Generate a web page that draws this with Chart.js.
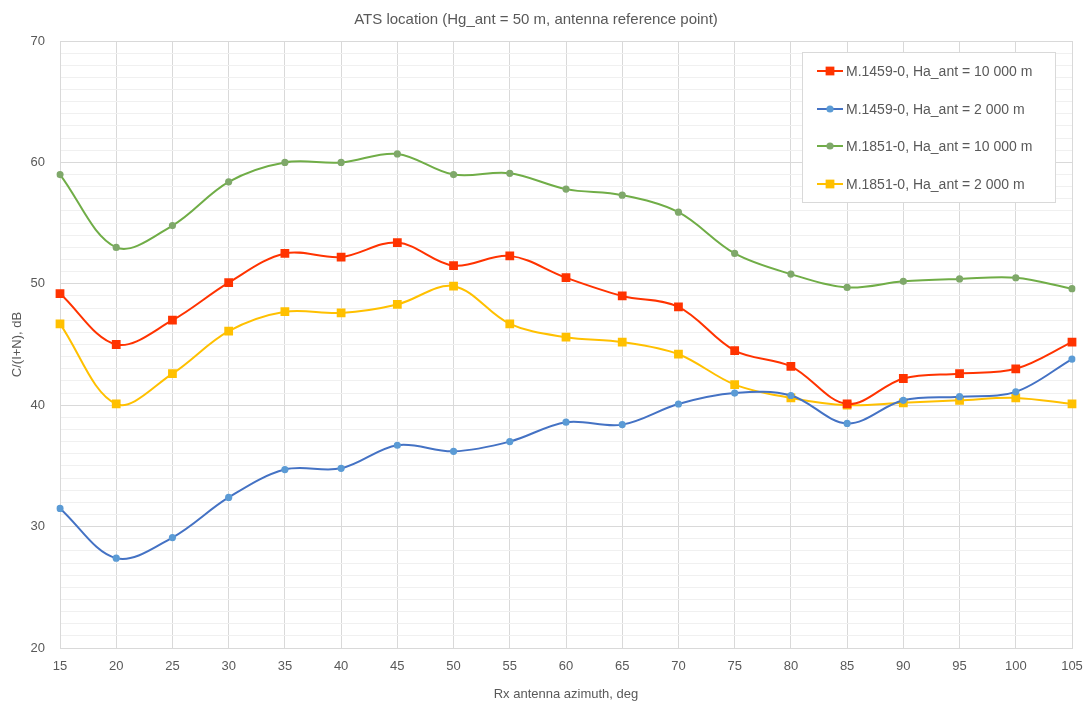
<!DOCTYPE html>
<html>
<head>
<meta charset="utf-8">
<script src="https://cdn.jsdelivr.net/npm/chart.js@4/dist/chart.umd.min.js"></script>
<style>
  html, body { margin: 0; padding: 0; background: #fff; }
  #wrap { width: 1089px; height: 702px; position: relative; }
</style>
</head>
<body>
<div id="wrap"><canvas id="c" width="1089" height="702"></canvas></div>
<script>
const azimuths = [15, 20, 25, 30, 35, 40, 45, 50, 55, 60, 65, 70, 75, 80, 85, 90, 95, 100, 105];
const m1459_10000 = [49.2, 45.0, 47.0, 50.1, 52.5, 52.2, 53.4, 51.5, 52.3, 50.5, 49.0, 48.1, 44.5, 43.2, 40.1, 42.2, 42.6, 43.0, 45.2];
const m1459_2000  = [31.5, 27.4, 29.1, 32.4, 34.7, 34.8, 36.7, 36.2, 37.0, 38.6, 38.4, 40.1, 41.0, 40.8, 38.5, 40.4, 40.7, 41.1, 43.8];
const m1851_10000 = [59.0, 53.0, 54.8, 58.4, 60.0, 60.0, 60.7, 59.0, 59.1, 57.8, 57.3, 55.9, 52.5, 50.8, 49.7, 50.2, 50.4, 50.5, 49.6];
const m1851_2000  = [46.7, 40.1, 42.6, 46.1, 47.7, 47.6, 48.3, 49.8, 46.7, 45.6, 45.2, 44.2, 41.7, 40.6, 40.0, 40.2, 40.4, 40.6, 40.1];
const seriesNames = [
  'M.1459-0, Ha_ant = 10 000 m',
  'M.1459-0, Ha_ant = 2 000 m',
  'M.1851-0, Ha_ant = 10 000 m',
  'M.1851-0, Ha_ant = 2 000 m'
];
const yTickLabels = [20, 30, 40, 50, 60, 70];
const chartTitle = 'ATS location (Hg_ant = 50 m, antenna reference point)';
const xTitle = 'Rx antenna azimuth, deg';
const yTitle = 'C/(I+N), dB';

const FONT = "'Liberation Sans', Arial, sans-serif";
const TXT = '#595959';

const legendPlugin = {
  id: 'boxLegend',
  afterDraw(chart) {
    const ctx = chart.ctx;
    const x0 = 802, y0 = 52, w = 253, h = 150;
    ctx.save();
    ctx.fillStyle = '#fff';
    ctx.fillRect(x0, y0, w, h);
    ctx.strokeStyle = '#d9d9d9';
    ctx.lineWidth = 1;
    ctx.strokeRect(x0 + 0.5, y0 + 0.5, w, h);
    const rows = [71, 109, 146, 184];
    chart.data.datasets.forEach((ds, i) => {
      const y = rows[i];
      ctx.strokeStyle = ds.borderColor;
      ctx.lineWidth = 2;
      ctx.beginPath();
      ctx.moveTo(817, y);
      ctx.lineTo(843, y);
      ctx.stroke();
      ctx.fillStyle = ds.pointBackgroundColor;
      ctx.beginPath();
      if (ds.pointStyle === 'rect') {
        const s = ds.pointRadius * Math.SQRT2;
        ctx.fillRect(830 - s / 2, y - s / 2, s, s);
      } else {
        ctx.arc(830, y, ds.pointRadius, 0, Math.PI * 2);
        ctx.fill();
      }
      ctx.fillStyle = TXT;
      ctx.font = "14px " + FONT;
      ctx.textBaseline = 'middle';
      ctx.textAlign = 'left';
      ctx.fillText(ds.label, 846, y + 1);
    });
    ctx.restore();
  }
};

const ds = (label, data, color, lineColor, style, r) => ({
  label, data,
  borderColor: lineColor,
  backgroundColor: color,
  pointBackgroundColor: color,
  pointBorderColor: color,
  pointBorderWidth: 0,
  pointStyle: style,
  pointRadius: r,
  pointHoverRadius: r,
  borderWidth: 2,
  tension: 0.35,
  fill: false
});

new Chart(document.getElementById('c'), {
  type: 'line',
  data: {
    labels: azimuths,
    datasets: [
      ds(seriesNames[0], m1459_10000, '#FF3300', '#FF3300', 'rect', 6.2),
      ds(seriesNames[1], m1459_2000, '#5B9BD5', '#4472C4', 'circle', 3.6),
      ds(seriesNames[2], m1851_10000, '#7FA86A', '#70AD47', 'circle', 3.6),
      ds(seriesNames[3], m1851_2000, '#FFC000', '#FFC000', 'rect', 6.2)
    ]
  },
  options: {
    responsive: false,
    animation: false,
    devicePixelRatio: 1,
    layout: { padding: { left: 0, right: 17, top: 0, bottom: 0 } },
    plugins: {
      legend: { display: false },
      tooltip: { enabled: false },
      title: {
        display: true,
        text: chartTitle,
        color: TXT,
        font: { family: FONT, size: 15, weight: 'normal' },
        padding: { top: 11, bottom: 12 }
      }
    },
    scales: {
      x: {
        type: 'category',
        offset: false,
        grid: { color: '#d9d9d9', drawTicks: false },
        border: { color: '#d9d9d9' },
        ticks: {
          color: TXT, autoSkip: false, maxRotation: 0, padding: 11,
          font: { family: FONT, size: 13 }
        },
        title: {
          display: true, text: xTitle, color: TXT,
          font: { family: FONT, size: 13 }, padding: { top: 4, bottom: 0 }
        },
        afterFit(s) { s.height = 54; s.paddingLeft = 0; s.paddingRight = 0; }
      },
      y: {
        min: 20, max: 70,
        grid: {
          drawTicks: false,
          color: (c) => (c.tick && c.tick.value % 10 === 0) ? '#d9d9d9' : '#f0f0f0'
        },
        border: { color: '#d9d9d9' },
        ticks: {
          stepSize: 1, autoSkip: false, color: TXT, padding: 15,
          font: { family: FONT, size: 13 },
          callback: (v) => yTickLabels.includes(v) ? String(v) : ''
        },
        title: {
          display: true, text: yTitle, color: TXT,
          font: { family: FONT, size: 13 }, padding: { top: 10, bottom: 4 }
        },
        afterFit(s) { s.width = 60; s.paddingTop = 0; s.paddingBottom = 0; }
      }
    }
  },
  plugins: [legendPlugin]
});
</script>
</body>
</html>
